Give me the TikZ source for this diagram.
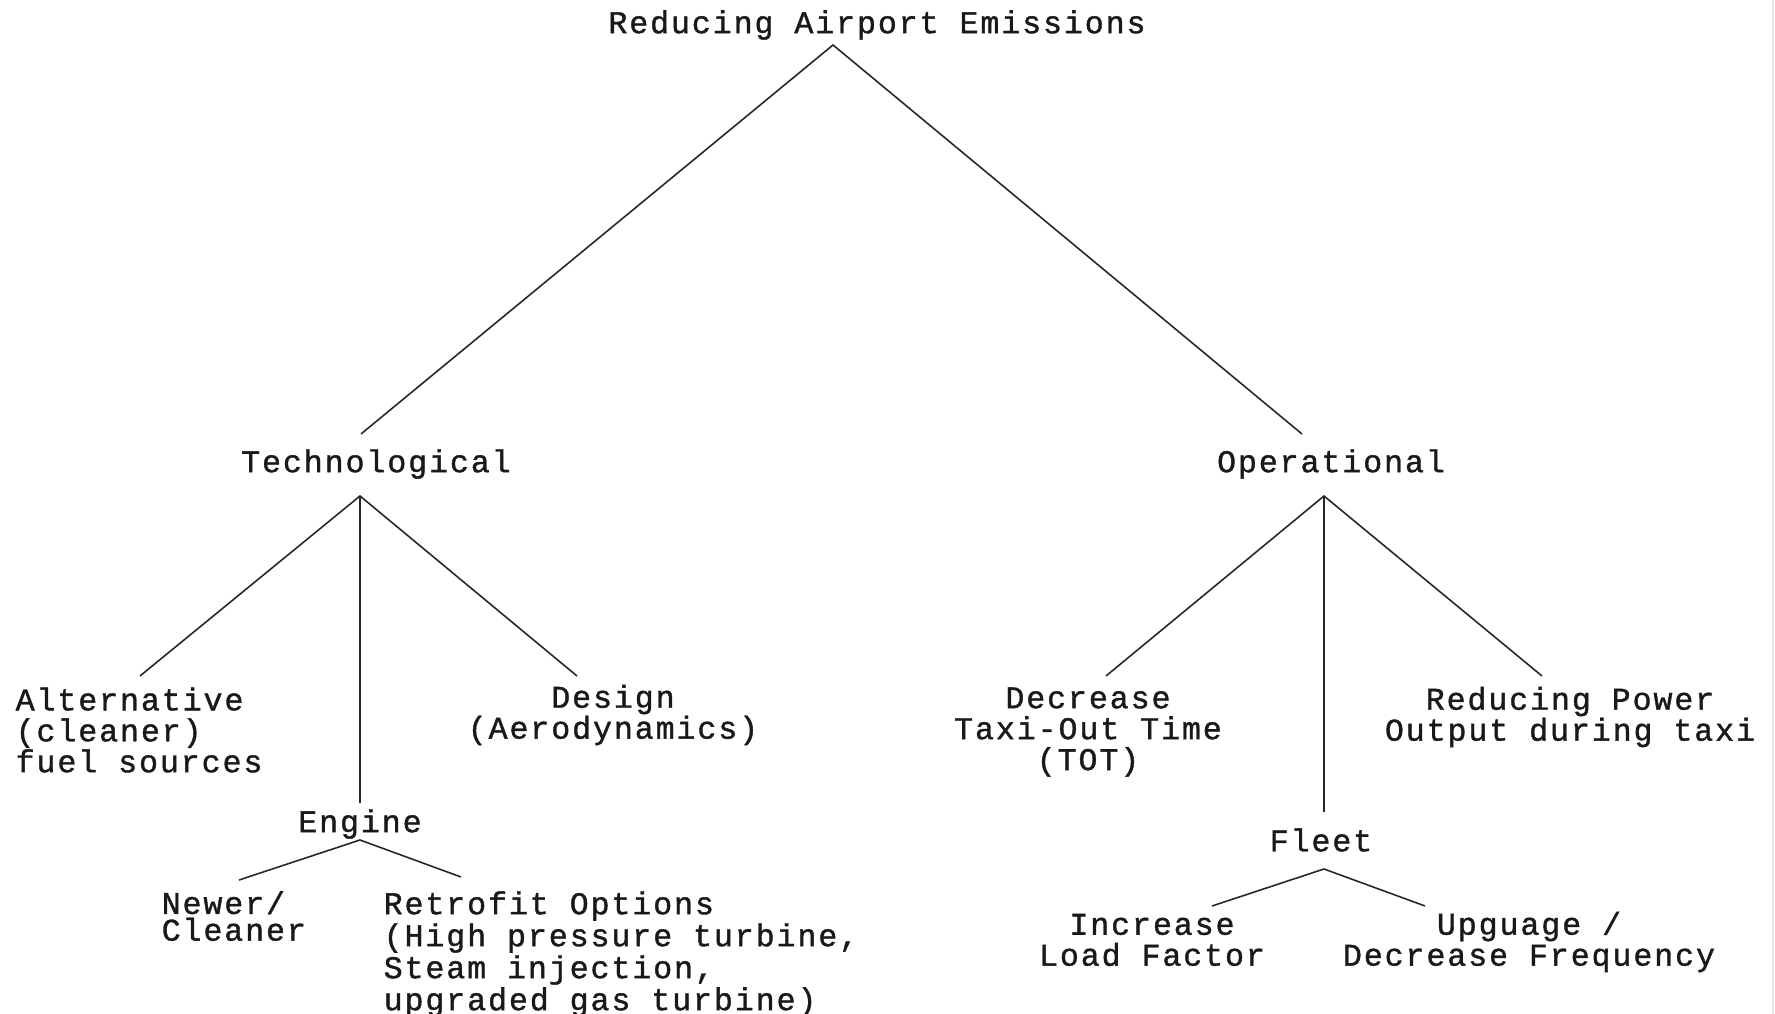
\documentclass[tikz,border=0pt]{standalone}
\usepackage{fontspec}
\usetikzlibrary{positioning,calc}
\newfontfamily\treemono[LetterSpace=6,FakeBold=1.2]{Liberation Mono}
\newcommand\treefont{\treemono\fontsize{9pt}{8.8pt}\selectfont}
\tikzset{
  lbl/.style={font=\treefont, inner sep=0pt, align=center, text=black!90},
  lbll/.style={lbl, align=left},
  branch/.style={draw=black!85, line width=0.45pt},
}

\begin{document}
\begin{tikzpicture}
  \useasboundingbox (0,0) rectangle (17.75,-10.14);
  \draw[black!10] (17.73,0) -- (17.73,-10.14);

  % labels
  \node[lbl] (root) at (8.77,-0.25) {Reducing Airport Emissions};
  \node[lbl] (tech) at (3.76,-4.64) {Technological};
  \node[lbl] (oper) at (13.31,-4.64) {Operational};
  \node[lbll, anchor=west] (alt) at (0.15,-7.30) {Alternative\\(cleaner)\\fuel sources};
  \node[lbl] (design) at (6.13,-7.15) {Design\\(Aerodynamics)};
  \node[lbl] (engine) at (3.60,-8.24) {Engine};
  \node[lbll, anchor=west, font=\treemono\fontsize{9pt}{7.6pt}\selectfont] (newer) at (1.61,-9.16) {Newer/\\Cleaner};
  \node[lbll, anchor=west, font=\treemono\fontsize{9pt}{9.1pt}\selectfont] (retro) at (3.83,-9.54) {Retrofit Options\\(High pressure turbine,\\Steam injection,\\upgraded gas turbine)};
  \node[lbl] (taxi) at (10.88,-7.32) {Decrease\\Taxi-Out Time\\(TOT)};
  \node[lbl] (power) at (15.70,-7.17) {Reducing Power\\Output during taxi};
  \node[lbl] (fleet) at (13.21,-8.40) {Fleet};
  \node[lbl] (load) at (11.52,-9.40) {Increase\\Load Factor};
  \node[lbl] (gauge) at (15.29,-9.42) {Upguage /\\Decrease Frequency};

  % fork points and branch ends
  \coordinate (rootfork) at (8.33,-0.45);
  \coordinate (techtop) at (3.61,-4.34);
  \coordinate (opertop) at (13.02,-4.34);
  \coordinate (techfork) at (3.60,-4.96);
  \coordinate (alttop) at (1.40,-6.76);
  \coordinate (designtop) at (5.77,-6.76);
  \coordinate (enginetop) at (3.60,-8.03);
  \coordinate (enginefork) at (3.60,-8.40);
  \coordinate (newertop) at (2.39,-8.80);
  \coordinate (retrotop) at (4.61,-8.77);
  \coordinate (operfork) at (13.24,-4.96);
  \coordinate (taxitop) at (11.06,-6.76);
  \coordinate (powertop) at (15.42,-6.76);
  \coordinate (fleettop) at (13.24,-8.12);
  \coordinate (fleetfork) at (13.24,-8.69);
  \coordinate (loadtop) at (12.12,-9.06);
  \coordinate (gaugetop) at (14.25,-9.06);

  % branches
  \draw[branch] (techtop) -- (rootfork) -- (opertop);
  \draw[branch] (alttop) -- (techfork) -- (designtop);
  \draw[branch] (techfork) -- (enginetop);
  \draw[branch] (newertop) -- (enginefork) -- (retrotop);
  \draw[branch] (taxitop) -- (operfork) -- (powertop);
  \draw[branch] (operfork) -- (fleettop);
  \draw[branch] (loadtop) -- (fleetfork) -- (gaugetop);
\end{tikzpicture}
\end{document}
